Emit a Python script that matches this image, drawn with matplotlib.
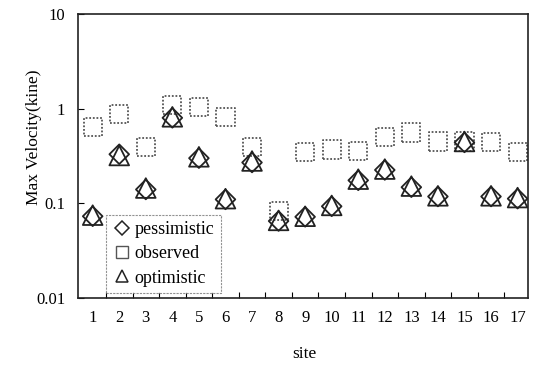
import matplotlib
matplotlib.use("Agg")
import matplotlib.pyplot as plt
from matplotlib.lines import Line2D
import numpy as np

# Max velocity per site
sites = list(range(1, 18))
observed = [0.64, 0.88, 0.39, 1.09, 1.04, 0.82, 0.39, 0.083, 0.35,
            0.37, 0.36, 0.50, 0.56, 0.45, 0.45, 0.44, 0.35]
pessimistic = [0.073, 0.33, 0.14, 0.80, 0.30, 0.11, 0.27, 0.065, 0.072,
               0.093, 0.175, 0.225, 0.148, 0.118, 0.44, 0.118, 0.112]
optimistic = [0.075, 0.32, 0.145, 0.82, 0.31, 0.112, 0.28, 0.066, 0.073,
              0.095, 0.18, 0.23, 0.152, 0.12, 0.45, 0.12, 0.115]

plt.rcParams["font.family"] = ["Liberation Serif", "DejaVu Serif"]

fig = plt.figure(figsize=(5.33, 3.65), dpi=100)
ax = fig.add_axes([0.146, 0.1836, 0.845, 0.778])

x = np.array(sites)
ax.scatter(x, observed, marker="s", s=170, facecolors="none",
           edgecolors="#555555", linewidths=1.3, linestyle=(0, (1, 1)), zorder=2)
ax.scatter(x, pessimistic, marker="D", s=100, facecolors="none",
           edgecolors="#222222", linewidths=1.3, zorder=3)
ax.scatter(x, optimistic, marker="^", s=200, facecolors="none",
           edgecolors="#222222", linewidths=1.3, zorder=3)

ax.set_yscale("log")
ax.set_ylim(0.01, 10)
ax.set_xlim(0.44, 17.4)
ax.set_yticks([0.01, 0.1, 1, 10])
ax.set_yticklabels(["0.01", "0.1", "1", "10"])
ax.yaxis.set_minor_locator(matplotlib.ticker.NullLocator())

# tick marks between the sites, labels on the sites
ax.set_xticks(np.arange(1.5, 17, 1))
ax.set_xticklabels([])
ax.set_xticks(sites, minor=True)
ax.set_xticklabels([str(s) for s in sites], minor=True)
ax.tick_params(axis="x", which="major", direction="in", length=4, width=0.8)
ax.tick_params(axis="x", which="minor", length=0, pad=9, labelsize=12)
ax.tick_params(axis="y", which="major", direction="in", length=4, width=0.8,
               pad=9, labelsize=12)

for sp in ax.spines.values():
    sp.set_linewidth(1.2)
    sp.set_color("#222222")

ax.set_ylabel("Max Velocity(kine)", fontsize=12.5, va="center")
ax.yaxis.set_label_coords(-0.098, 0.567)
ax.set_xlabel("site", fontsize=12.5, va="center")
ax.xaxis.set_label_coords(0.504, -0.197)

handles = [
    Line2D([], [], marker="D", linestyle="none", markersize=7,
           markerfacecolor="none", markeredgecolor="#222222", markeredgewidth=1.1),
    Line2D([], [], marker="s", linestyle="none", markersize=8,
           markerfacecolor="none", markeredgecolor="#555555", markeredgewidth=1.0),
    Line2D([], [], marker="^", linestyle="none", markersize=9,
           markerfacecolor="none", markeredgecolor="#222222", markeredgewidth=1.1),
]
leg = ax.legend(handles, ["pessimistic", "observed", "optimistic"],
                loc="lower left", bbox_to_anchor=(0.062, 0.018),
                fancybox=False, fontsize=13, handlelength=1.1,
                handletextpad=0.15, borderpad=0.35, labelspacing=0.4,
                borderaxespad=0)
leg.get_frame().set_edgecolor("#777777")
leg.get_frame().set_linewidth(0.8)
leg.get_frame().set_linestyle((0, (2, 1)))

fig.savefig("out.png", dpi=100, facecolor="white")
